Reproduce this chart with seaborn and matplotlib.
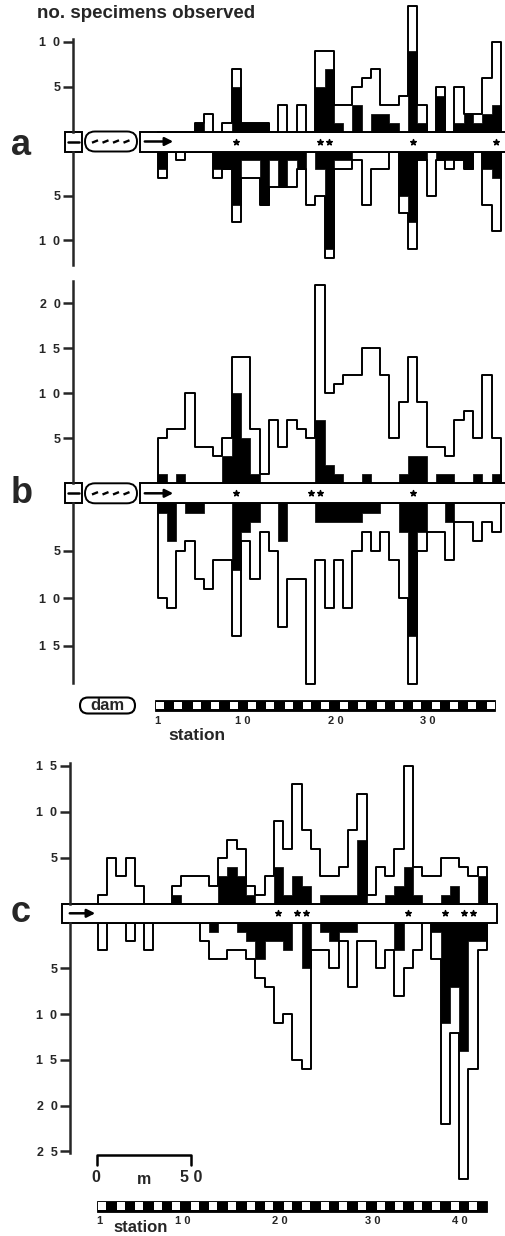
import numpy as np
import pandas as pd
import matplotlib
matplotlib.use('Agg')
import matplotlib.pyplot as plt
from matplotlib.patches import Rectangle, FancyBboxPatch
import seaborn as sns

W, H = 506, 1236

# panel a / b: 37 stations, panel c: 42 stations
stations_ab = list(range(1, 38))
stations_c = list(range(1, 43))

# counts above the channel (total = outline, black = filled part)
a_up_total = [0, 0, 0, 0, 1, 2, 0, 1, 7, 1, 1, 1, 0, 3, 0, 3, 0, 9, 9, 3, 3, 5, 6, 7, 3, 3, 4, 14, 3, 0, 5, 0, 5, 2, 2, 6, 10]
a_up_black = [0, 0, 0, 0, 1, 0, 0, 0, 5, 1, 1, 1, 0, 0, 0, 0, 0, 5, 7, 1, 0, 3, 0, 2, 2, 1, 0, 9, 1, 0, 4, 0, 1, 2, 1, 2, 3]
# counts below the channel
a_low_total = [3, 0, 1, 0, 0, 0, 3, 2, 8, 3, 3, 6, 4, 4, 4, 2, 6, 5, 12, 2, 2, 1, 6, 2, 2, 0, 7, 11, 1, 5, 1, 2, 1, 2, 0, 6, 9]
a_low_black = [2, 0, 0, 0, 0, 0, 2, 2, 6, 1, 1, 6, 1, 4, 1, 2, 0, 2, 11, 1, 1, 0, 0, 0, 0, 0, 5, 8, 1, 0, 1, 1, 1, 2, 0, 2, 3]
a_stars = [9, 18, 19, 28, 37]

b_up_total = [5, 6, 6, 10, 4, 4, 3, 5, 14, 14, 6, 1, 7, 4, 7, 6, 5, 22, 10, 11, 12, 12, 15, 15, 12, 5, 9, 14, 9, 4, 4, 3, 7, 8, 5, 12, 5]
b_up_black = [1, 0, 1, 0, 0, 0, 0, 3, 10, 5, 1, 0, 0, 0, 0, 0, 0, 7, 2, 1, 0, 0, 1, 0, 0, 0, 1, 3, 3, 0, 1, 1, 0, 0, 1, 0, 1]
b_low_total = [10, 11, 5, 4, 8, 9, 6, 6, 14, 4, 8, 3, 5, 13, 8, 8, 19, 6, 11, 6, 11, 5, 3, 5, 3, 6, 10, 19, 5, 3, 3, 6, 2, 2, 4, 2, 3]
b_low_black = [1, 4, 0, 1, 1, 0, 0, 0, 7, 3, 2, 0, 0, 4, 0, 0, 0, 2, 2, 2, 2, 2, 1, 1, 0, 0, 3, 14, 3, 0, 0, 2, 0, 0, 0, 0, 0]
b_stars = [9, 17, 18, 28]

c_up_total = [1, 5, 3, 5, 2, 0, 0, 0, 2, 3, 3, 3, 2, 5, 7, 6, 2, 1, 3, 9, 6, 13, 8, 6, 3, 3, 4, 8, 12, 1, 4, 3, 6, 15, 4, 3, 3, 5, 5, 4, 3, 4]
c_up_black = [0, 0, 0, 0, 0, 0, 0, 0, 1, 0, 0, 0, 0, 3, 4, 3, 1, 0, 0, 4, 1, 3, 2, 0, 1, 1, 1, 1, 7, 0, 0, 1, 2, 4, 1, 0, 0, 1, 2, 0, 0, 3]
c_low_total = [3, 0, 0, 2, 0, 3, 0, 0, 0, 0, 0, 2, 4, 4, 3, 3, 4, 6, 7, 11, 10, 15, 16, 3, 3, 5, 2, 7, 2, 2, 5, 3, 8, 5, 3, 0, 4, 22, 12, 28, 16, 3]
c_low_black = [0, 0, 0, 0, 0, 0, 0, 0, 0, 0, 0, 0, 1, 0, 0, 1, 2, 4, 2, 2, 3, 0, 5, 0, 1, 2, 1, 1, 0, 0, 0, 0, 3, 0, 0, 0, 1, 11, 7, 14, 2, 2]
c_stars = [20, 22, 23, 34, 38, 40, 41]

sns.set_style('ticks')
plt.rcParams['font.family'] = ['Liberation Sans', 'DejaVu Sans']
plt.rcParams['font.weight'] = 'bold'

LW = 1.4
fig = plt.figure(figsize=(W / 100, H / 100), dpi=100)

# overlay in pixel units for channel, dam and scale drawings
ov = fig.add_axes([0, 0, 1, 1], zorder=0)
ov.set_xlim(0, W)
ov.set_ylim(H, 0)
ov.axis('off')


def px_axes(x0, y0, x1, y1):
    ax = fig.add_axes([x0 / W, 1 - y1 / H, (x1 - x0) / W, (y1 - y0) / H], zorder=1)
    ax.patch.set_visible(False)
    return ax


def hist_half(ax, stations, total, black):
    df = pd.DataFrame({'pos': np.asarray(stations, dtype=float) - 1,
                       'total': np.asarray(total, dtype=float),
                       'black': np.asarray(black, dtype=float)})
    sns.histplot(data=df, x='pos', weights='total', discrete=True, element='step', fill=True,
                 facecolor='white', edgecolor='black', linewidth=LW, alpha=1, ax=ax)
    sns.histplot(data=df, x='pos', weights='black', discrete=True, element='step', fill=True,
                 facecolor='black', edgecolor='black', linewidth=0.5, alpha=1, ax=ax)


def setup(ax, xl, yl, bound, ticks):
    ax.set_xlim(*xl)
    ax.set_ylim(*yl)
    ax.set_xlabel('')
    ax.set_ylabel('')
    ax.set_xticks([])
    for s in ('top', 'right', 'bottom'):
        ax.spines[s].set_visible(False)
    ax.spines['left'].set_linewidth(1.8)
    ax.spines['left'].set_bounds(0, bound)
    ax.set_yticks(ticks)
    ax.set_yticklabels(['  '.join(str(t)) for t in ticks])
    ax.tick_params(axis='y', direction='out', length=7, width=1.8, labelsize=9, pad=2)


xl_ab = ((73 - 157.5) / 9.28 - 0.5, (506 - 157.5) / 9.28 - 0.5)
xl_c = ((70 - 97.7) / 9.27 - 0.5, (506 - 97.7) / 9.27 - 0.5)

# panel a
ax = px_axes(73, 0, 506, 131.5)
hist_half(ax, stations_ab, a_up_total, a_up_black)
setup(ax, xl_ab, (0, 131.5 / 8.95), 10.34, [5, 10])
ax.scatter(np.array(a_stars) - 1, np.full(len(a_stars), -10 / 8.95), marker='*', s=18,
           color='black', clip_on=False, zorder=5)
ax = px_axes(73, 151.5, 506, 272)
hist_half(ax, stations_ab, a_low_total, a_low_black)
setup(ax, xl_ab, ((272 - 151.5) / 8.85, 0), 12.8, [5, 10])

# panel b
ax = px_axes(73, 272, 506, 483.3)
hist_half(ax, stations_ab, b_up_total, b_up_black)
setup(ax, xl_ab, (0, 211.3 / 9.0), 22.5, [5, 10, 15, 20])
ax.scatter(np.array(b_stars) - 1, np.full(len(b_stars), -10 / 9.0), marker='*', s=18,
           color='black', clip_on=False, zorder=5)
ax = px_axes(73, 503.3, 506, 692)
hist_half(ax, stations_ab, b_low_total, b_low_black)
setup(ax, xl_ab, (188.7 / 9.5, 0), 18.9, [5, 10, 15])

# panel c
ax = px_axes(70, 745, 506, 904)
hist_half(ax, stations_c, c_up_total, c_up_black)
setup(ax, xl_c, (0, 159 / 9.2), 15.3, [5, 10, 15])
ax.scatter(np.array(c_stars) - 1, np.full(len(c_stars), -9.3 / 9.2), marker='*', s=18,
           color='black', clip_on=False, zorder=5)
ax = px_axes(70, 922.7, 506, 1195)
hist_half(ax, stations_c, c_low_total, c_low_black)
setup(ax, xl_c, (272.3 / 9.15, 0), 25.2, [5, 10, 15, 20, 25])


def arrow(x0, x1, y):
    ov.annotate('', xy=(x1, y), xytext=(x0, y),
                arrowprops=dict(arrowstyle='-|>', color='black', lw=1.8, mutation_scale=12))


def dam_channel(y0, y1):
    h = y1 - y0
    ym = (y0 + y1) / 2
    ov.add_patch(Rectangle((65, y0), 17, h, fc='white', ec='black', lw=LW))
    ov.plot([68, 79], [ym, ym], color='black', lw=1.8)
    ov.add_patch(FancyBboxPatch((85, y0), 52, h, boxstyle='round,pad=0,rounding_size=%.1f' % (h / 2),
                                fc='white', ec='black', lw=LW))
    for cx in (95, 105.5, 116, 126.5):
        ov.plot([cx - 3, cx + 3], [ym + 1.2, ym - 1.2], color='black', lw=1.7, solid_capstyle='butt')
    ov.add_patch(Rectangle((140, y0), 420, h, fc='white', ec='black', lw=LW))
    arrow(142, 176, ym)


def station_bar(x0, x1, n, y0, h):
    ov.add_patch(Rectangle((x0, y0), x1 - x0, h, fc='black', ec='black', lw=0.6))
    step = (x1 - x0) / n
    for k in range(0, n, 2):
        ov.add_patch(Rectangle((x0 + k * step + 1.0, y0 + 1.7), 8.0, h - 3.4,
                               fc='white', ec='none'))


dam_channel(131.5, 151.5)
dam_channel(483.3, 503.3)
ov.add_patch(Rectangle((62, 904), 435, 18.7, fc='white', ec='black', lw=LW))
arrow(67, 98, 913.3)

# texts
ov.text(37, 13, 'no. specimens observed', fontsize=13.5, ha='left', va='center')
for lab, yb in (('a', 155), ('b', 503), ('c', 921.5)):
    ov.text(11, yb, lab, fontsize=26, ha='left', va='baseline')

# dam label and station scale under b
ov.add_patch(FancyBboxPatch((80, 697.5), 55, 16, boxstyle='round,pad=0,rounding_size=8',
                            fc='white', ec='black', lw=1.5))
ov.text(107.5, 705, 'dam', fontsize=12, ha='center', va='center')
station_bar(155, 495, 37, 700, 11)
for t, x in (('1', 157), ('1 0', 243), ('2 0', 336), ('3 0', 428)):
    ov.text(x, 721, t, fontsize=8, ha='center', va='center')
ov.text(197, 735, 'station', fontsize=12.5, ha='center', va='center')

# distance scale and station scale under c
ov.plot([97, 97, 191, 191], [1165, 1155, 1155, 1165], color='black', lw=1.8)
ov.text(96, 1178, '0', fontsize=11.5, ha='center', va='center')
ov.text(144, 1179, 'm', fontsize=11.5, ha='center', va='center')
ov.text(191, 1178, '5 0', fontsize=11.5, ha='center', va='center')
station_bar(97, 487, 42, 1200.5, 11)
for t, x in (('1', 99), ('1 0', 183), ('2 0', 280), ('3 0', 373), ('4 0', 460)):
    ov.text(x, 1221, t, fontsize=8, ha='center', va='center')
ov.text(141, 1235.5, 'station', fontsize=12, ha='center', va='bottom')

fig.savefig('out.png', dpi=100)
